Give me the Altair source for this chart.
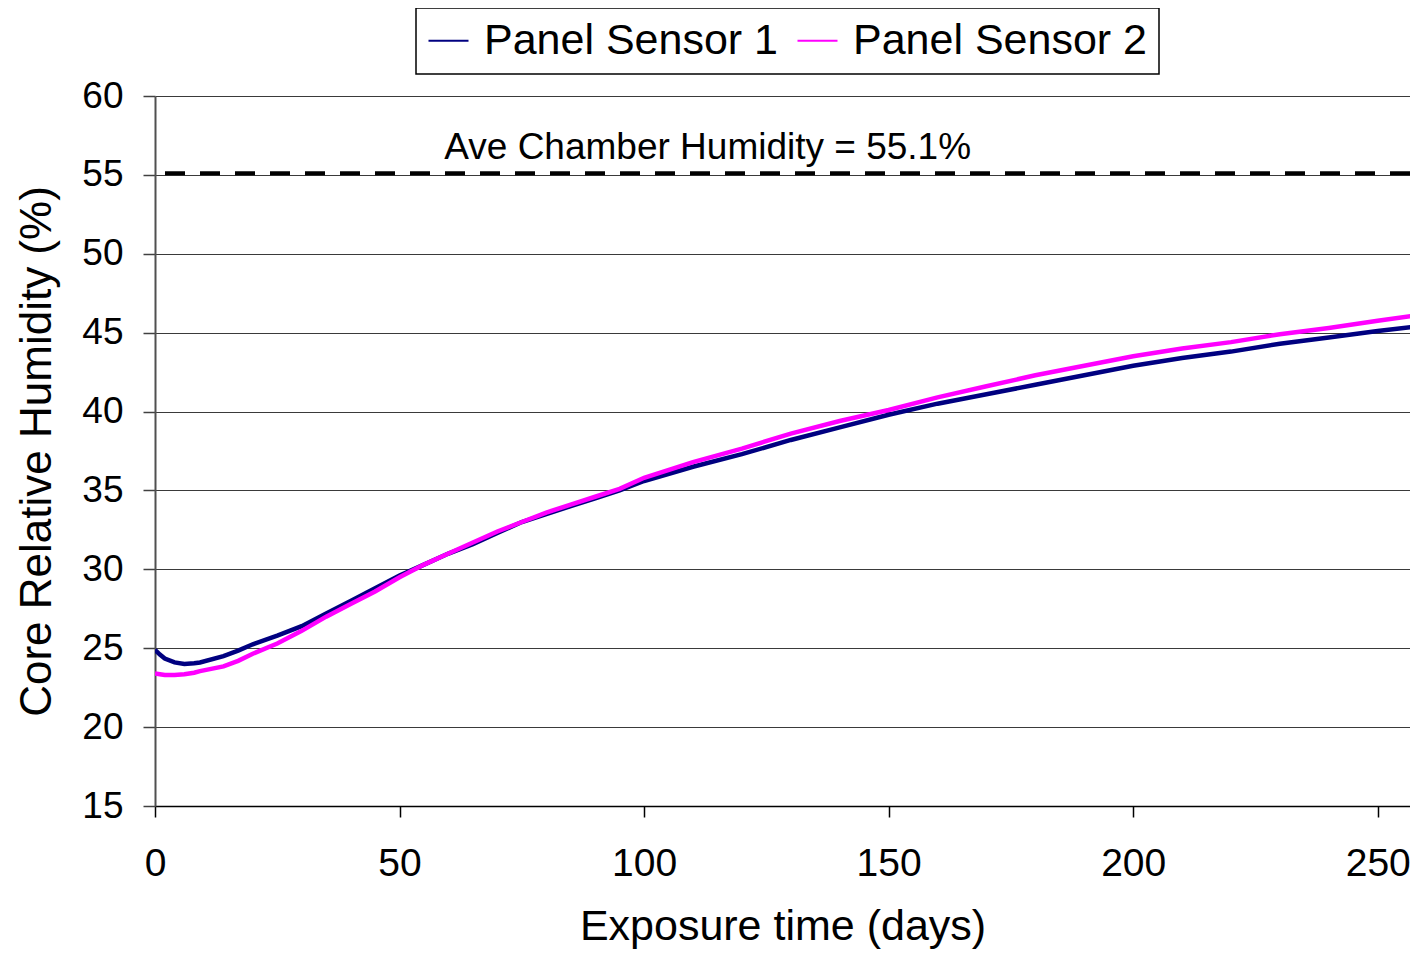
import altair as alt
import pandas as pd

# ---- data ----
series_names = ["Panel Sensor 1", "Panel Sensor 2"]
series_colors = ["#000080", "#FF00FF"]

days = [0, 1, 2, 4, 6, 8, 9.2, 14, 17, 20, 25, 30, 35, 40, 45, 50, 55, 60, 65, 70,
        75, 80, 85, 90, 95, 100, 110, 120, 130, 140, 150, 160, 170, 180, 190, 200,
        210, 220, 230, 240, 250, 258]

rh_sensor1 = [24.9, 24.6, 24.35, 24.1, 24.0, 24.05, 24.1, 24.5, 24.85, 25.25, 25.8, 26.4,
              27.2, 28.0, 28.8, 29.6, 30.3, 31.0, 31.6, 32.3, 33.0, 33.5, 34.0, 34.5,
              35.0, 35.6, 36.5, 37.3, 38.2, 39.0, 39.8, 40.5, 41.1, 41.7, 42.3, 42.9,
              43.4, 43.8, 44.3, 44.7, 45.1, 45.4]

rh_sensor2 = [23.4, 23.35, 23.3, 23.3, 23.35, 23.45, 23.55, 23.85, 24.2, 24.65, 25.3, 26.1,
              27.0, 27.8, 28.6, 29.5, 30.3, 31.0, 31.7, 32.4, 33.0, 33.6, 34.1, 34.6,
              35.1, 35.8, 36.8, 37.65, 38.6, 39.4, 40.1, 40.9, 41.6, 42.3, 42.9, 43.5,
              44.0, 44.4, 44.9, 45.3, 45.75, 46.1]

chamber_rh = [55.1]
annotation_text = ["Ave Chamber Humidity = 55.1%"]
annotation_day = [113]
annotation_rh = [56.0]

x_ticks = [0, 50, 100, 150, 200, 250]
y_ticks = [15, 20, 25, 30, 35, 40, 45, 50, 55, 60]
x_domain = [0, 256.6]
y_domain = [15, 60]

FONT = "Liberation Sans"

# ---- tables ----
lines_df = pd.DataFrame({
    "Day": days + days,
    "RH": rh_sensor1 + rh_sensor2,
    "Series": [series_names[0]] * len(days) + [series_names[1]] * len(days),
})
rule_df = pd.DataFrame({"RH": chamber_rh})
text_df = pd.DataFrame({"Day": annotation_day, "RH": annotation_rh, "label": annotation_text})

x_scale = alt.Scale(domain=x_domain, nice=False, zero=False)
y_scale = alt.Scale(domain=y_domain, nice=False, zero=False)

lines = alt.Chart(lines_df).mark_line(strokeWidth=4.5, clip=True).encode(
    x=alt.X("Day:Q", scale=x_scale, title="Exposure time (days)",
            axis=alt.Axis(values=x_ticks, grid=False, tickSize=11, tickColor="black",
                          tickWidth=1.5, domainColor="black", domainWidth=1.5,
                          labelFontSize=39, labelPadding=27, labelFont=FONT,
                          labelColor="black", titleFontSize=43, titleFont=FONT,
                          titleFontWeight="normal", titleColor="black",
                          titlePadding=22, labelFlush=False, labelOverlap=False)),
    y=alt.Y("RH:Q", scale=y_scale, title="Core Relative Humidity (%)",
            axis=alt.Axis(values=y_ticks, grid=True, gridColor="#3a3a3a", gridWidth=1,
                          tickSize=12, tickColor="#404040", tickWidth=1.5,
                          domainColor="#505050", domainWidth=2,
                          labelFontSize=37, labelPadding=20, labelFont=FONT,
                          labelColor="black", titleFontSize=44, titleFont=FONT,
                          titleFontWeight="normal", titleColor="black",
                          titlePadding=22, labelFlush=False, labelOverlap=False)),
    color=alt.Color("Series:N",
                    scale=alt.Scale(domain=series_names, range=series_colors),
                    legend=alt.Legend(title=None, orient="none", legendX=261, legendY=-88,
                                      direction="horizontal", symbolType="stroke",
                                      symbolSize=1600, symbolStrokeWidth=2,
                                      labelFontSize=43, labelFont=FONT, labelColor="black",
                                      labelOffset=14, labelLimit=0, columnPadding=14,
                                      strokeColor="black", fillColor="white",
                                      padding=11)),
)

rule = alt.Chart(rule_df).mark_rule(color="black", strokeWidth=4, strokeDash=[20, 15]).encode(
    y=alt.Y("RH:Q", scale=y_scale)
)

label = alt.Chart(text_df).mark_text(fontSize=37, font=FONT, color="black",
                                     align="center", baseline="alphabetic").encode(
    x=alt.X("Day:Q", scale=x_scale),
    y=alt.Y("RH:Q", scale=y_scale),
    text="label:N",
)

chart = alt.layer(lines, rule, label).properties(
    width=1255, height=710,
    autosize=alt.AutoSizeParams(type="none"),
    padding={"left": 147, "top": 88, "right": 0, "bottom": 144},
).configure_view(stroke=None).configure_legend(strokeWidth=1.5)

chart.save("out.html", embed_options={"renderer": "svg", "actions": False})
